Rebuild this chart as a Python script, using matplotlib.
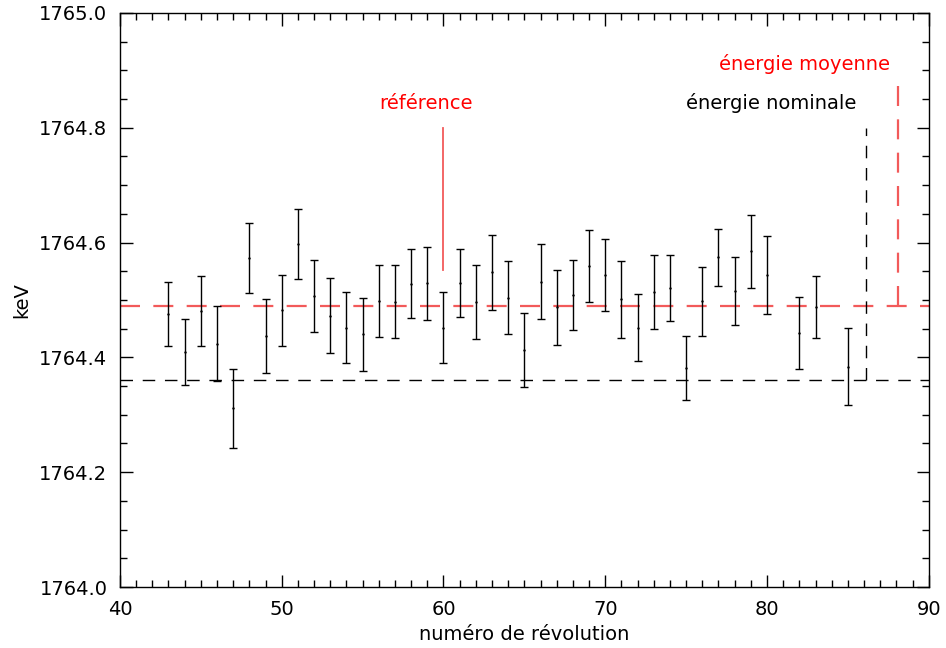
"""
Energie mesuree par revolution, avec barres d'erreur
"""

import matplotlib.pyplot as plt
import numpy as np

# revolution number, measured energy (keV) and half error
revolutions = [43, 44, 45, 46, 47, 48, 49, 50, 51, 52, 53, 54, 55, 56, 57, 58,
               59, 60, 61, 62, 63, 64, 65, 66, 67, 68, 69, 70, 71, 72, 73, 74,
               75, 76, 77, 78, 79, 80, 82, 83, 85]
energies = [1764.476, 1764.409, 1764.4805, 1764.424, 1764.3115, 1764.573,
            1764.4375, 1764.482, 1764.598, 1764.5075, 1764.4725, 1764.452,
            1764.440, 1764.4985, 1764.497, 1764.5285, 1764.529, 1764.452,
            1764.5295, 1764.4965, 1764.5485, 1764.504, 1764.4125, 1764.532,
            1764.4875, 1764.5085, 1764.5585, 1764.5435, 1764.501, 1764.452,
            1764.514, 1764.521, 1764.382, 1764.4975, 1764.5745, 1764.5155,
            1764.5845, 1764.5435, 1764.443, 1764.487, 1764.384]
errors = [0.056, 0.057, 0.0605, 0.065, 0.0685, 0.061, 0.0645, 0.062, 0.061,
          0.0625, 0.0655, 0.062, 0.064, 0.0625, 0.064, 0.0595, 0.064, 0.062,
          0.0595, 0.0645, 0.0655, 0.063, 0.0645, 0.065, 0.0655, 0.0615, 0.0625,
          0.0625, 0.067, 0.058, 0.064, 0.057, 0.056, 0.0595, 0.0495, 0.0595,
          0.0635, 0.0675, 0.063, 0.054, 0.067]

e_nominal = 1764.36
e_mean = 1764.49
rev_reference = 60
reference_top = 1764.80
reference_bottom = 1764.552
rev_nominal = 86.1
nominal_top = 1764.80
rev_mean = 88.1
mean_top = 1764.89


def main():

    plt.rcParams['font.family'] = 'DejaVu Sans'
    plt.rcParams['font.size'] = 14

    fig = plt.figure(figsize=(9.46, 6.48), dpi=100)
    ax = fig.add_axes([0.1268, 0.0941, 0.855, 0.886])

    red = '#f25a5a'

    # horizontal reference levels
    ax.axhline(e_mean, color=red, lw=1.6, dashes=(9, 6), zorder=1)
    ax.axhline(e_nominal, color='black', lw=1.0, dashes=(9, 7), zorder=1)

    # measurements
    ax.errorbar(revolutions, energies, yerr=errors, fmt='.', ms=1.5,
                color='black', ecolor='black', elinewidth=1.0,
                capsize=2.6, capthick=1.0, zorder=3)

    # vertical markers with their labels
    ax.plot([rev_reference, rev_reference], [reference_bottom, reference_top],
            color=red, lw=1.3)
    ax.text(rev_reference - 1.1, reference_top + 0.025, 'référence',
            color='red', ha='center', va='bottom')

    ax.plot([rev_nominal, rev_nominal], [e_nominal, nominal_top],
            color='black', lw=1.0, dashes=(9, 7))
    ax.text(rev_nominal - 5.85, nominal_top + 0.025, 'énergie nominale',
            color='black', ha='center', va='bottom')

    ax.plot([rev_mean, rev_mean], [e_mean, mean_top],
            color=red, lw=1.6, dashes=(9, 6))
    ax.text(rev_mean - 5.8, mean_top + 0.003, 'énergie moyenne',
            color='red', ha='center', va='bottom')

    ax.set_xlim(40, 90)
    ax.set_ylim(1764.0, 1765.0)
    ax.set_xticks(np.arange(40, 91, 10))
    ax.set_xticks(np.arange(40, 91, 1), minor=True)
    ax.set_yticks(np.arange(1764.0, 1765.01, 0.2))
    ax.set_yticks(np.arange(1764.0, 1765.01, 0.05), minor=True)
    ax.yaxis.set_major_formatter(plt.FormatStrFormatter('%.1f'))

    ax.tick_params(which='both', direction='in', top=True, right=True,
                   width=1.0, color='black')
    ax.tick_params(which='major', length=9, pad=9)
    ax.tick_params(which='minor', length=5)
    for s in ax.spines.values():
        s.set_linewidth(1.0)

    ax.set_xlabel('numéro de révolution', labelpad=5)
    ax.set_ylabel('keV', labelpad=6)

    fig.savefig('out.png', dpi=100)
    plt.close(fig)


if __name__ == '__main__':
    main()
